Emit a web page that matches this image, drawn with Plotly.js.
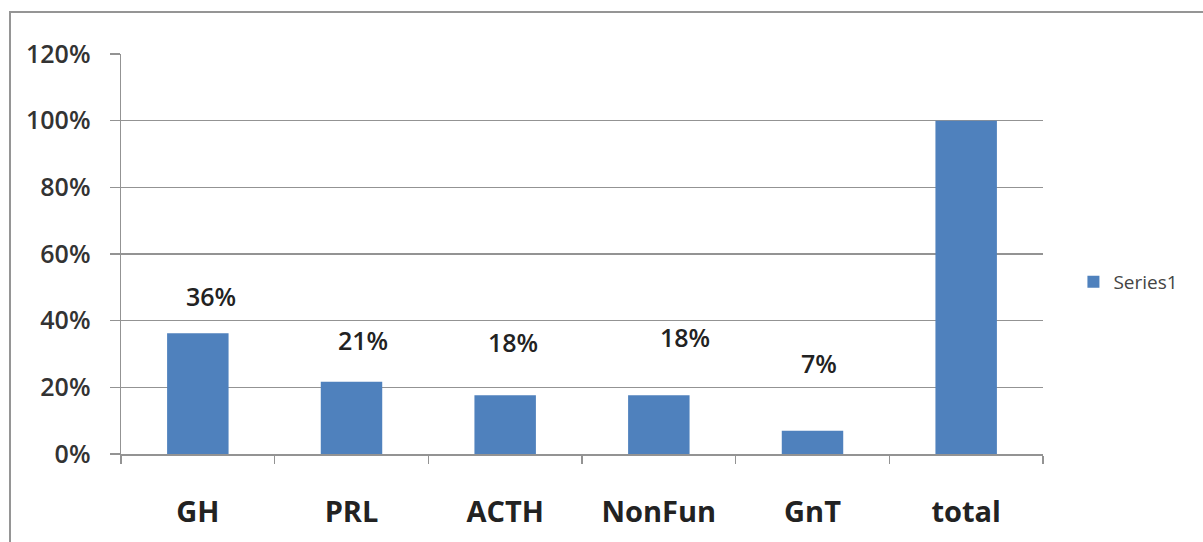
<!DOCTYPE html>
<html>
<head>
<meta charset="utf-8">
<script src="https://cdn.plot.ly/plotly-3.0.1.min.js"></script>
<style>
  html, body { margin: 0; padding: 0; background: #ffffff; }
  #wrap { position: relative; width: 1203px; height: 542px; overflow: hidden; }
  #chart { width: 1203px; height: 542px; }
  #frame { position: absolute; left: 9px; top: 11px; width: 1300px; height: 700px;
           border-top: 2px solid #959595; border-left: 2px solid #959595; pointer-events: none; }
</style>
</head>
<body>
<div id="wrap">
  <div id="chart"></div>
  <div id="frame"></div>
</div>
<script>
// ---- data ----
const categories = ["GH", "PRL", "ACTH", "NonFun", "GnT", "total"];
const values = [0.362, 0.217, 0.176, 0.176, 0.07, 1.0];
const labelTexts = ["36%", "21%", "18%", "18%", "7%", ""];
const seriesName = "Series1";
const yTickVals = [0, 0.2, 0.4, 0.6, 0.8, 1.0, 1.2];

// ---- styling ----
const barColor = "#4f81bd";
const gridColor = "#939393";
const fontFamily = "'Open Sans', Lato, sans-serif";
// per-label pixel offsets (style only)
const labelShiftX = [13, 11, 8, 26, 6, 0];
const labelShiftY = [37, 42, 53, 58, 68, 0];

const trace = {
  type: "bar",
  x: categories,
  y: values,
  name: seriesName,
  marker: { color: barColor, line: { width: 0 } },
  hoverinfo: "x+y"
};

const annotations = [];
categories.forEach((c, i) => {
  if (!labelTexts[i]) return;
  annotations.push({
    x: c, y: values[i], xref: "x", yref: "y",
    text: labelTexts[i], showarrow: false,
    xanchor: "center", yanchor: "middle",
    xshift: labelShiftX[i], yshift: labelShiftY[i],
    font: { family: fontFamily, size: 25, color: "#222222", weight: 600 }
  });
});

const layout = {
  width: 1203, height: 542,
  margin: { l: 121, r: 160, t: 54, b: 88 },
  paper_bgcolor: "#ffffff",
  plot_bgcolor: "#ffffff",
  bargap: 0.6,
  showlegend: true,
  legend: {
    x: 1.033, xanchor: "left", y: 0.43, yanchor: "middle",
    font: { family: fontFamily, size: 19, color: "#444444" },
    itemwidth: 30, bgcolor: "rgba(0,0,0,0)"
  },
  xaxis: {
    type: "category",
    tickson: "boundaries",
    ticks: "outside", ticklen: 8, tickcolor: gridColor, tickwidth: 1.5,
    showline: true, linecolor: gridColor, linewidth: 1.5,
    showgrid: false, zeroline: false,
    tickfont: { family: fontFamily, size: 29, color: "#222222", weight: "bold" },
    ticklabelstandoff: 32,
    fixedrange: true
  },
  yaxis: {
    range: [0, 1.2],
    tickvals: yTickVals,
    tickformat: ".0%",
    ticks: "outside", ticklen: 10, tickcolor: gridColor, tickwidth: 1.5,
    showline: true, linecolor: gridColor, linewidth: 1.5,
    showgrid: true, gridcolor: gridColor, gridwidth: 1.5,
    zeroline: false,
    tickfont: { family: fontFamily, size: 25, color: "#333333", weight: 600 },
    ticklabelstandoff: 14,
    fixedrange: true
  },
  annotations: annotations
};

Plotly.newPlot("chart", [trace], layout, { displayModeBar: false, staticPlot: true });
</script>
</body>
</html>
